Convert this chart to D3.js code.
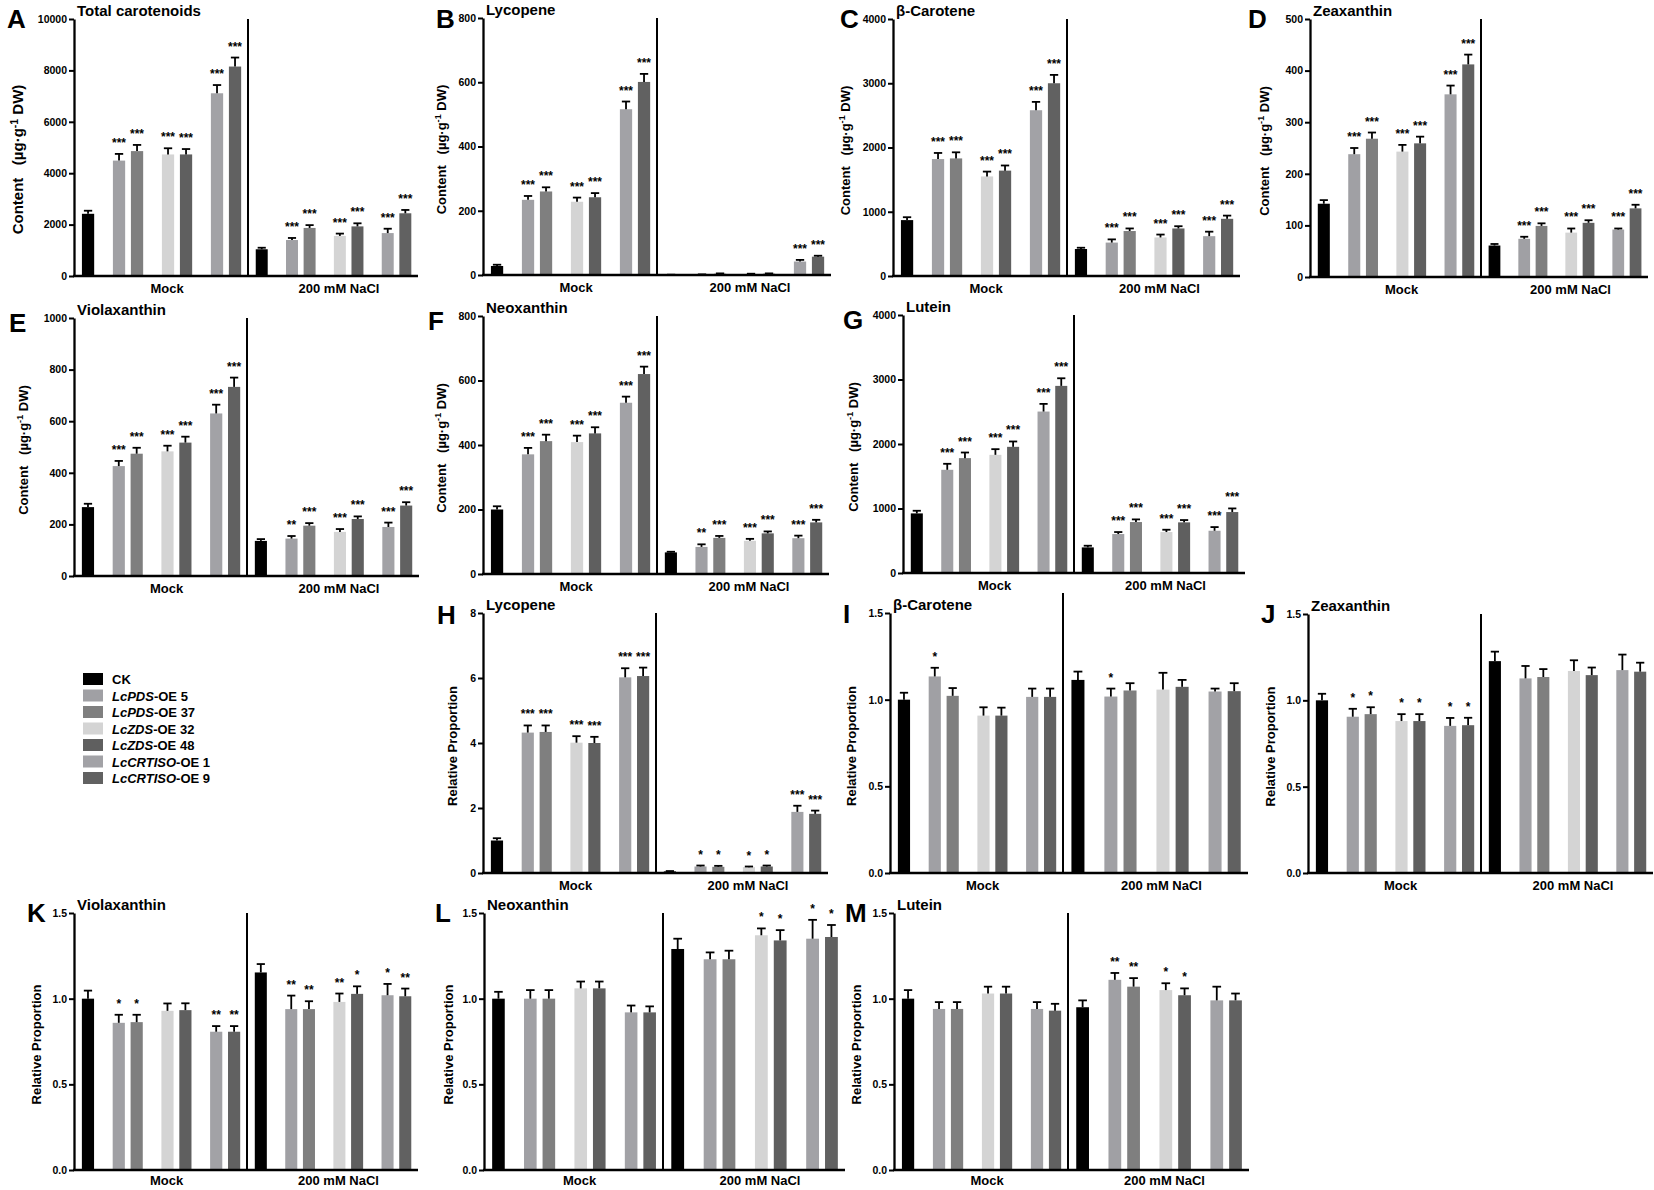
<!DOCTYPE html>
<html>
<head>
<meta charset="utf-8">
<script src="https://cdn.jsdelivr.net/npm/d3@7"></script>
<style>
body { margin: 0; background: #fff; }
svg { font-family: "Liberation Sans", Arial, sans-serif; }
</style>
</head>
<body>
<div id="chart"></div>
<script>
// lines and conditions
var lines = ["CK", "LcPDS-OE 5", "LcPDS-OE 37", "LcZDS-OE 32", "LcZDS-OE 48", "LcCRTISO-OE 1", "LcCRTISO-OE 9"];
var lineGroup = [0, 1, 1, 2, 2, 3, 3];
var lineColors = ["#000000", "#a0a0a4", "#7f7f7f", "#d4d4d4", "#5f5f5f", "#a2a2a6", "#616161"];
var conditions = ["Mock", "200 mM NaCl"];

// values: first 7 = Mock, last 7 = 200 mM NaCl
var totalMean = [2420, 4490, 4860, 4730, 4730, 7110, 8150, 1040, 1400, 1870, 1560, 1930, 1670, 2440];
var totalErr  = [120, 260, 240, 240, 210, 320, 350, 60, 80, 110, 90, 120, 170, 130];
var totalSig  = ["", "***", "***", "***", "***", "***", "***", "", "***", "***", "***", "***", "***", "***"];

var lycMean = [28, 234, 260, 228, 242, 516, 601, 1, 2, 4, 3, 4, 42, 57];
var lycErr  = [4, 12, 13, 13, 13, 24, 25, 0, 0, 1, 1, 1, 5, 3];
var lycSig  = ["", "***", "***", "***", "***", "***", "***", "", "", "", "", "", "***", "***"];

var betaMean = [870, 1820, 1830, 1550, 1640, 2580, 3000, 420, 520, 700, 600, 740, 620, 890];
var betaErr  = [45, 95, 95, 75, 80, 130, 130, 20, 50, 40, 45, 35, 70, 50];
var betaSig  = ["", "***", "***", "***", "***", "***", "***", "", "***", "***", "***", "***", "***", "***"];

var zeaMean = [142, 238, 268, 243, 259, 354, 412, 61, 74, 99, 86, 105, 92, 133];
var zeaErr  = [7, 12, 12, 13, 13, 17, 19, 3, 4, 5, 8, 5, 2, 7];
var zeaSig  = ["", "***", "***", "***", "***", "***", "***", "", "***", "***", "***", "***", "***", "***"];

var violaMean = [267, 426, 474, 483, 517, 630, 733, 136, 145, 195, 171, 221, 190, 273];
var violaErr  = [13, 20, 23, 22, 23, 34, 36, 7, 10, 10, 11, 10, 17, 13];
var violaSig  = ["", "***", "***", "***", "***", "***", "***", "", "**", "***", "***", "***", "***", "***"];

var neoMean = [200, 371, 412, 409, 436, 531, 620, 67, 84, 112, 103, 126, 111, 160];
var neoErr  = [10, 20, 20, 20, 19, 19, 23, 2, 8, 6, 6, 6, 8, 8];
var neoSig  = ["", "***", "***", "***", "***", "***", "***", "", "**", "***", "***", "***", "***", "***"];

var lutMean = [924, 1600, 1781, 1832, 1956, 2503, 2901, 397, 604, 790, 635, 785, 655, 945];
var lutErr  = [41, 93, 87, 88, 83, 119, 118, 26, 31, 41, 36, 36, 57, 56];
var lutSig  = ["", "***", "***", "***", "***", "***", "***", "", "***", "***", "***", "***", "***", "***"];

var lycRelMean = [1.0, 4.32, 4.34, 4.01, 4.00, 6.02, 6.06, 0.05, 0.2, 0.19, 0.18, 0.2, 1.88, 1.82];
var lycRelErr  = [0.07, 0.22, 0.2, 0.2, 0.19, 0.28, 0.26, 0.01, 0.03, 0.03, 0.02, 0.03, 0.19, 0.1];
var lycRelSig  = ["", "***", "***", "***", "***", "***", "***", "", "*", "*", "*", "*", "***", "***"];

var betaRelMean = [1.0, 1.134, 1.022, 0.908, 0.908, 1.016, 1.016, 1.114, 1.018, 1.053, 1.058, 1.074, 1.047, 1.049];
var betaRelErr  = [0.04, 0.05, 0.045, 0.048, 0.046, 0.048, 0.048, 0.048, 0.046, 0.042, 0.097, 0.04, 0.017, 0.046];
var betaRelSig  = ["", "*", "", "", "", "", "", "", "*", "", "", "", "", ""];

var zeaRelMean = [1.0, 0.905, 0.92, 0.88, 0.88, 0.852, 0.856, 1.227, 1.127, 1.135, 1.17, 1.146, 1.175, 1.166];
var zeaRelErr  = [0.038, 0.046, 0.04, 0.04, 0.04, 0.046, 0.043, 0.055, 0.072, 0.046, 0.062, 0.044, 0.09, 0.052];
var zeaRelSig  = ["", "*", "*", "*", "*", "*", "*", "", "", "", "", "", "", ""];

var violaRelMean = [1.0, 0.859, 0.863, 0.929, 0.933, 0.807, 0.807, 1.153, 0.939, 0.939, 0.981, 1.028, 1.02, 1.014];
var violaRelErr  = [0.047, 0.047, 0.043, 0.043, 0.04, 0.033, 0.033, 0.049, 0.079, 0.046, 0.049, 0.044, 0.066, 0.045];
var violaRelSig  = ["", "*", "*", "", "", "**", "**", "", "**", "**", "**", "*", "*", "**"];

var neoRelMean = [1.0, 1.0, 1.0, 1.06, 1.06, 0.92, 0.92, 1.29, 1.23, 1.23, 1.37, 1.34, 1.35, 1.36];
var neoRelErr  = [0.04, 0.05, 0.05, 0.04, 0.04, 0.04, 0.035, 0.06, 0.04, 0.05, 0.04, 0.06, 0.11, 0.07];
var neoRelSig  = ["", "", "", "", "", "", "", "", "", "", "*", "*", "*", "*"];

var lutRelMean = [1.0, 0.94, 0.94, 1.03, 1.03, 0.94, 0.93, 0.95, 1.11, 1.07, 1.05, 1.02, 0.99, 0.99];
var lutRelErr  = [0.05, 0.04, 0.04, 0.04, 0.04, 0.04, 0.04, 0.04, 0.04, 0.05, 0.04, 0.04, 0.08, 0.04];
var lutRelSig  = ["", "", "", "", "", "", "", "", "**", "**", "*", "*", "", ""];

// panel layout (positions in px)
var layout = [
  {key: "A", title: "Total carotenoids", mean: totalMean, err: totalErr, sig: totalSig, max: 10000, step: 2000, rel: false,
   x0: 74, xd: 248, x1: 418, yT: 19, y0: 276, lx: 7, ly: 28, yl: -56, ylOff: 12, ylFs: 15},
  {key: "B", title: "Lycopene", mean: lycMean, err: lycErr, sig: lycSig, max: 800, step: 200, rel: false,
   x0: 483, xd: 657, x1: 831, yT: 18, y0: 275, lx: 436, ly: 28, yl: -42},
  {key: "C", title: "\u03b2-Carotene", mean: betaMean, err: betaErr, sig: betaSig, max: 4000, step: 1000, rel: false,
   x0: 893, xd: 1067, x1: 1240, yT: 19, y0: 276, lx: 840, ly: 28, yl: -48},
  {key: "D", title: "Zeaxanthin", mean: zeaMean, err: zeaErr, sig: zeaSig, max: 500, step: 100, rel: false,
   x0: 1310, xd: 1481, x1: 1648, yT: 19, y0: 277, lx: 1248, ly: 28, yl: -46},
  {key: "E", title: "Violaxanthin", mean: violaMean, err: violaErr, sig: violaSig, max: 1000, step: 200, rel: false,
   x0: 74, xd: 247, x1: 419, yT: 318, y0: 576, lx: 9, ly: 332, yl: -51},
  {key: "F", title: "Neoxanthin", mean: neoMean, err: neoErr, sig: neoSig, max: 800, step: 200, rel: false,
   x0: 483, xd: 657, x1: 829, yT: 316, y0: 574, lx: 428, ly: 330, yl: -42},
  {key: "G", title: "Lutein", mean: lutMean, err: lutErr, sig: lutSig, max: 4000, step: 1000, rel: false,
   x0: 903, xd: 1074, x1: 1245, yT: 315, y0: 573, lx: 843, ly: 329, yl: -50},
  {key: "H", title: "Lycopene", mean: lycRelMean, err: lycRelErr, sig: lycRelSig, max: 8, step: 2, rel: true, fmt: "d",
   x0: 483, xd: 656, x1: 828, yT: 613, y0: 873, lx: 437, ly: 624, yl: -31},
  {key: "I", title: "\u03b2-Carotene", mean: betaRelMean, err: betaRelErr, sig: betaRelSig, max: 1.5, step: 0.5, rel: true,
   x0: 890, xd: 1063, x1: 1248, yT: 613, y0: 873, lx: 843, ly: 623, yl: -39, divTop: 593},
  {key: "J", title: "Zeaxanthin", mean: zeaRelMean, err: zeaRelErr, sig: zeaRelSig, max: 1.5, step: 0.5, rel: true,
   x0: 1308, xd: 1481, x1: 1653, yT: 614, y0: 873, lx: 1261, ly: 623, yl: -38},
  {key: "K", title: "Violaxanthin", mean: violaRelMean, err: violaRelErr, sig: violaRelSig, max: 1.5, step: 0.5, rel: true,
   x0: 74, xd: 247, x1: 418, yT: 913, y0: 1170, lx: 27, ly: 922, yl: -38, condDy: 15},
  {key: "L", title: "Neoxanthin", mean: neoRelMean, err: neoRelErr, sig: neoRelSig, max: 1.5, step: 0.5, rel: true,
   x0: 484, xd: 663, x1: 845, yT: 913, y0: 1170, lx: 435, ly: 922, yl: -36, condDy: 15},
  {key: "M", title: "Lutein", mean: lutRelMean, err: lutRelErr, sig: lutRelSig, max: 1.5, step: 0.5, rel: true,
   x0: 894, xd: 1068, x1: 1249, yT: 913, y0: 1170, lx: 845, ly: 922, yl: -38, condDy: 15}
];

var svg = d3.select("#chart").append("svg")
  .attr("width", 1654)
  .attr("height", 1190);

svg.append("rect").attr("width", 1654).attr("height", 1190).attr("fill", "#fff");

// slot of each line inside a half: extra gap between line groups
function slot(i) { return i + 0.72 * lineGroup[i]; }

layout.forEach(function(p) {
  var g = svg.append("g").attr("class", "panel-" + p.key);

  var y = d3.scaleLinear().domain([0, p.max]).range([p.y0, p.yT]);
  var halves = [[p.x0, p.xd], [p.xd, p.x1]];
  var xs = halves.map(function(h) {
    return d3.scaleLinear().domain([-0.78, 8.88]).range(h);
  });

  var rows = p.mean.map(function(v, k) {
    var c = Math.floor(k / 7), i = k % 7;
    var xsc = xs[c];
    var bw = (xsc(1) - xsc(0)) * 0.68;
    return {v: v, e: p.err[k], s: p.sig[k], i: i, cx: xsc(slot(i)), bw: bw};
  });

  // bars
  g.selectAll("rect.bar").data(rows).enter().append("rect")
    .attr("class", "bar")
    .attr("x", function(d) { return d.cx - d.bw / 2; })
    .attr("y", function(d) { return y(d.v); })
    .attr("width", function(d) { return d.bw; })
    .attr("height", function(d) { return p.y0 - y(d.v); })
    .attr("fill", function(d) { return lineColors[d.i]; });

  // error bars (upper only)
  g.selectAll("line.err").data(rows).enter().append("line")
    .attr("class", "err")
    .attr("x1", function(d) { return d.cx; })
    .attr("x2", function(d) { return d.cx; })
    .attr("y1", function(d) { return y(d.v); })
    .attr("y2", function(d) { return y(d.v + d.e); })
    .attr("stroke", "#000").attr("stroke-width", 1.8);
  g.selectAll("line.cap").data(rows).enter().append("line")
    .attr("class", "cap")
    .attr("x1", function(d) { return d.cx - d.bw * 0.34; })
    .attr("x2", function(d) { return d.cx + d.bw * 0.34; })
    .attr("y1", function(d) { return y(d.v + d.e); })
    .attr("y2", function(d) { return y(d.v + d.e); })
    .attr("stroke", "#000").attr("stroke-width", 1.8);

  // significance stars
  g.selectAll("text.sig").data(rows.filter(function(d) { return d.s; })).enter().append("text")
    .attr("class", "sig")
    .attr("x", function(d) { return d.cx; })
    .attr("y", function(d) { return y(d.v + d.e) - 7; })
    .attr("text-anchor", "middle")
    .attr("font-size", 12)
    .attr("font-weight", "bold")
    .text(function(d) { return d.s; });

  // y axis
  var fmt = p.rel ? (p.fmt ? d3.format("d") : d3.format(".1f")) : d3.format("d");
  var yAxis = d3.axisLeft(y)
    .tickValues(d3.range(0, p.max + p.step / 2, p.step))
    .tickSize(5).tickSizeOuter(0).tickPadding(2)
    .tickFormat(fmt);
  var ag = g.append("g").attr("transform", "translate(" + p.x0 + ",0)").call(yAxis);
  ag.select(".domain").attr("stroke-width", 2.3);
  ag.selectAll(".tick line").attr("stroke-width", 2);
  ag.selectAll(".tick text")
    .attr("font-family", "'Liberation Sans', Arial, sans-serif")
    .attr("font-size", 10.5).attr("font-weight", "bold").attr("fill", "#000");

  // x axis line and divider
  g.append("line")
    .attr("x1", p.x0 - 1).attr("x2", p.x1)
    .attr("y1", p.y0).attr("y2", p.y0)
    .attr("stroke", "#000").attr("stroke-width", 2.6);
  g.append("line")
    .attr("x1", p.xd).attr("x2", p.xd)
    .attr("y1", p.divTop || p.yT).attr("y2", p.y0)
    .attr("stroke", "#000").attr("stroke-width", 2);

  // condition labels
  g.selectAll("text.cond").data(conditions).enter().append("text")
    .attr("class", "cond")
    .attr("x", function(d, c) { return (halves[c][0] + halves[c][1]) / 2 + 6; })
    .attr("y", p.y0 + (p.condDy || 17))
    .attr("text-anchor", "middle")
    .attr("font-size", 13).attr("font-weight", "bold")
    .text(function(d) { return d; });

  // title and panel letter
  g.append("text")
    .attr("x", p.x0 + 3).attr("y", p.yT - 3)
    .attr("font-size", 15).attr("font-weight", "bold")
    .text(p.title);
  g.append("text")
    .attr("x", p.lx).attr("y", p.ly)
    .attr("font-size", 26).attr("font-weight", "bold")
    .text(p.key);

  // y axis title
  var fs = p.ylFs || 13;
  var yt = g.append("text")
    .attr("transform", "translate(" + (p.x0 + p.yl + fs * 0.36) + "," + ((p.yT + p.y0) / 2 + (p.ylOff || 3)) + ") rotate(-90)")
    .attr("text-anchor", "middle")
    .attr("font-size", fs).attr("font-weight", "bold");
  if (p.rel) {
    yt.text("Relative Proportion");
  } else {
    yt.append("tspan").text("Content\u00a0\u00a0\u00a0(\u00b5g\u00b7g");
    yt.append("tspan").attr("dy", -5).attr("font-size", fs * 0.7).text("-1");
    yt.append("tspan").attr("dy", 5).text(" DW)");
  }
});

// legend
var leg = svg.append("g").attr("class", "legend");
var legY = d3.scalePoint().domain(lines).range([679, 778]);
var li = leg.selectAll("g").data(lines).enter().append("g")
  .attr("transform", function(d) { return "translate(83," + legY(d) + ")"; });
li.append("rect")
  .attr("x", 0).attr("y", -6)
  .attr("width", 20).attr("height", 12)
  .attr("fill", function(d, i) { return lineColors[i]; });
var lt = li.append("text")
  .attr("x", 29).attr("y", 5)
  .attr("font-size", 13).attr("font-weight", "bold");
lt.each(function(d) {
  var t = d3.select(this);
  var k = d.indexOf("-OE");
  if (k < 0) { t.text(d); return; }
  t.append("tspan").attr("font-style", "italic").text(d.slice(0, k));
  t.append("tspan").text(d.slice(k));
});
</script>
</body>
</html>
